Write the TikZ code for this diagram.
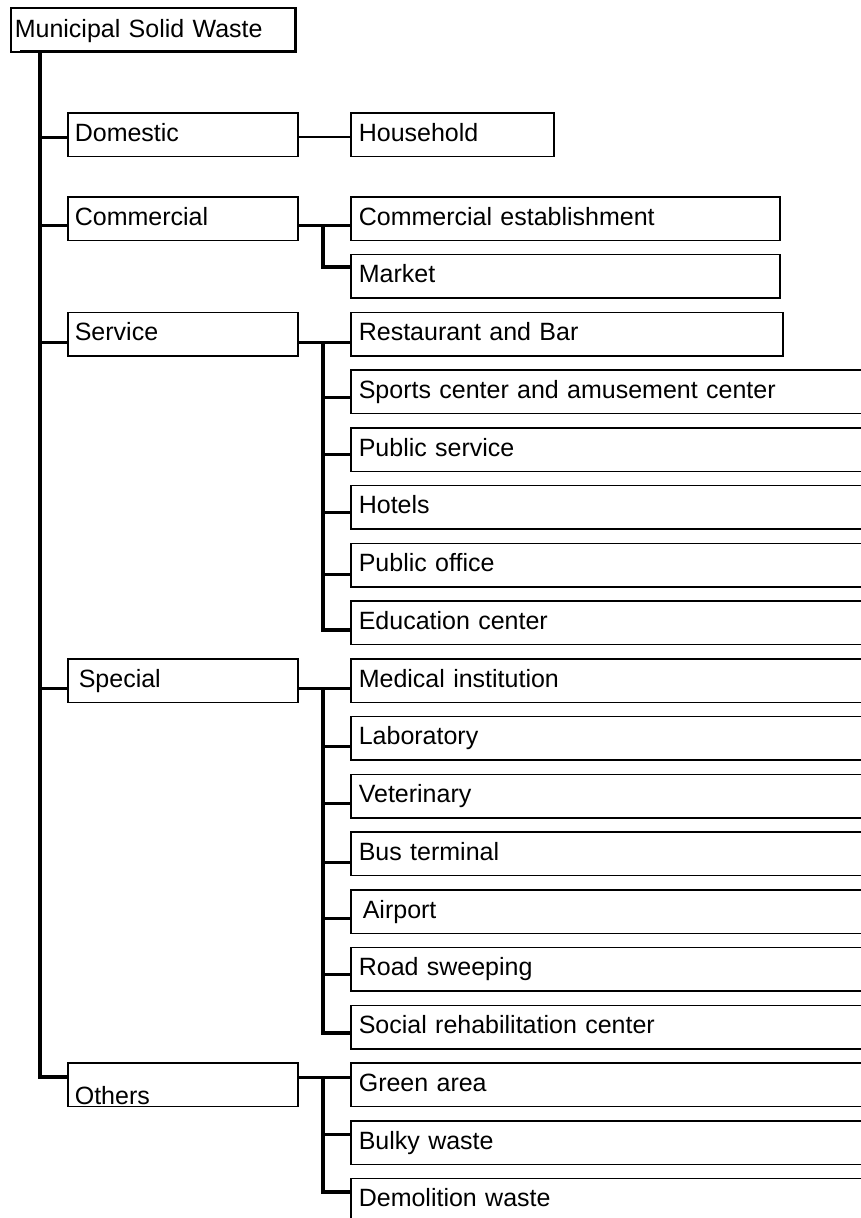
\documentclass[tikz,border=0pt]{standalone}
\usepackage{fontspec}
\setmainfont{Liberation Sans}
\usetikzlibrary{calc}
\begin{document}
\begin{tikzpicture}[x=1pt,y=-1pt,
  box/.style={draw, line width=1.6pt, anchor=north west, minimum height=43.5pt,
    inner xsep=7pt, inner ysep=0pt, align=left, text height=18pt, text depth=5pt,
    font=\fontsize{25}{30}\selectfont},
  lev1/.style={box, text width=216pt},
  lev2/.style={box, inner xsep=8pt},
  trunk/.style={line width=4pt, line join=miter},
  subtrunk/.style={line width=4pt, line join=miter},
  branch/.style={line width=3pt}]
\useasboundingbox (0,0) rectangle (861,1218);
\clip (0,0) rectangle (861,1218);
\coordinate (tx) at (40,0);
\coordinate (sx) at (323,0);
% root
\node[box, inner xsep=4pt, text width=277pt, text height=20pt, text depth=4pt, minimum height=44pt] (root) at (10,7) {Municipal Solid Waste};
\draw[line width=3.5pt] ($(root.south west)+(10,-1)$) -- ($(root.south east)+(-1,-1)$) -- ($(root.north east)+(-1,2)$);
% level 1
\node[lev1] (domestic) at (67,112) {Domestic};
\node[lev1] (commercial) at (67,196) {Commercial};
\node[lev1] (service) at (67,311.5) {Service};
\node[lev1] (special) at (67,658) {\hspace*{4pt}Special};
\node[lev1, text height=38.5pt, text depth=0pt] (others) at (67,1062.25) {Others};
% level 2
\node[lev2, text width=187pt] (household) at (350,112) {Household};
\node[lev2, text width=413pt] (comest) at (350,196) {Commercial establishment};
\node[lev2, text width=413pt] (market) at (350,253.75) {Market};
\node[lev2, text width=416pt] (restaurant) at (350,311.5) {Restaurant and Bar};
\foreach \n/\t/\txt in {
  sports/369.25/Sports center and amusement center,
  publicservice/427/Public service,
  hotels/484.75/Hotels,
  publicoffice/542.5/Public office,
  education/600.25/Education center,
  medical/658/Medical institution,
  laboratory/715.75/Laboratory,
  veterinary/773.5/Veterinary,
  bus/831.25/Bus terminal,
  airport/889/\hspace*{4pt}Airport,
  road/946.75/Road sweeping,
  social/1004.5/Social rehabilitation center,
  green/1062.25/Green area,
  bulky/1120/Bulky waste,
  demolition/1177.75/Demolition waste}
  \node[lev2, text width=540pt] (\n) at (350,\t) {\txt};
% connector points
\foreach \n/\o in {domestic/25, commercial/29, service/30.5, special/30, others/15,
  household/25, comest/29, market/13.5, restaurant/30.5, sports/28, publicservice/27,
  hotels/28, publicoffice/32, education/30, medical/30, laboratory/31, veterinary/29.5,
  bus/31, airport/29, road/28, social/28.5, green/15, bulky/14, demolition/14}
  \coordinate (\n-in) at ($(\n.north west)+(0,\o)$);
% trunk
\draw[trunk] (root.south -| tx) -- (others-in -| tx) -- (others-in);
\foreach \n in {domestic, commercial, service, special}
  \draw[branch] (\n-in -| tx) -- (\n-in);
% level 1 to level 2
\draw[line width=2.2pt] (domestic-in -| domestic.east) -- (household-in);
\foreach \a/\b in {commercial/comest, service/restaurant, special/medical, others/green}
  \draw[branch] (\a-in -| \a.east) -- (\b-in);
% sub-trunks
\draw[subtrunk] (comest-in -| sx) -- (market-in -| sx) -- (market-in);
\draw[subtrunk] (restaurant-in -| sx) -- (education-in -| sx) -- (education-in);
\draw[subtrunk] (medical-in -| sx) -- (social-in -| sx) -- (social-in);
\draw[subtrunk] (green-in -| sx) -- (demolition-in -| sx) -- (demolition-in);
\foreach \n in {sports, publicservice, hotels, publicoffice, laboratory, veterinary, bus, airport, road, bulky}
  \draw[branch] (\n-in -| sx) -- (\n-in);
\end{tikzpicture}
\end{document}
